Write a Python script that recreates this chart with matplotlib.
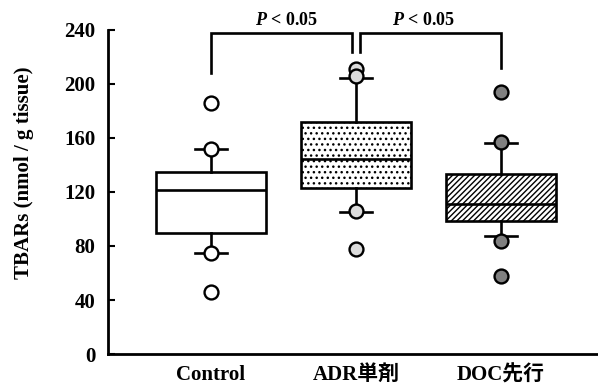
import matplotlib
matplotlib.use("Agg")
import matplotlib.pyplot as plt

plt.rcParams['hatch.linewidth'] = 1.0
plt.rcParams['mathtext.fontset'] = 'custom'
plt.rcParams['mathtext.bfit'] = 'Liberation Serif:italic:bold'
plt.rcParams['mathtext.rm'] = 'Liberation Serif:bold'

categories = ["Control", "ADR単剤", "DOC先行"]
q1 = [89.6, 122.9, 98.5]
med = [121.5, 144.4, 111.0]
q3 = [134.8, 171.9, 133.0]
whislo = [74.8, 105.2, 87.4]
whishi = [151.9, 204.4, 156.0]
points = [[186, 152, 75, 46], [211, 206, 106, 78], [194, 157, 84, 58]]
point_colors = ["white", "#dcdcdc", "#808080"]
hatches = [None, "...", "//////"]
yticks = [0, 40, 80, 120, 160, 200, 240]
sig_label = r"$\mathbfit{P}$ < 0.05"

fam = ['Liberation Serif', 'Noto Sans CJK JP']

fig = plt.figure(figsize=(5.98, 3.87), dpi=100)
ax = fig.add_axes([108/598, 33/387, 490/598, 324/387])

pos = [1, 2, 3]
for i in range(3):
    stats = [dict(q1=q1[i], med=med[i], q3=q3[i], whislo=whislo[i], whishi=whishi[i], fliers=[])]
    bp = ax.bxp(stats, positions=[pos[i]], widths=0.76, patch_artist=True,
                boxprops=dict(facecolor="white", edgecolor="black", linewidth=1.9),
                medianprops=dict(color="black", linewidth=1.9),
                whiskerprops=dict(color="black", linewidth=1.9),
                capprops=dict(color="black", linewidth=1.9),
                capwidths=0.22, showfliers=False)
    if hatches[i]:
        for b in bp['boxes']:
            b.set_hatch(hatches[i])
    ax.plot([pos[i]] * len(points[i]), points[i], linestyle="none", marker="o",
            markersize=10, markerfacecolor=point_colors[i], markeredgecolor="black",
            markeredgewidth=1.7, zorder=5, clip_on=False)

ax.set_xlim(0.29, 3.67)
ax.set_ylim(0, 240)
ax.set_yticks(yticks)
ax.set_yticklabels([str(t) for t in yticks], family=fam, fontweight="bold", fontsize=15)
ax.tick_params(axis='y', direction='in', length=5, width=1.5, pad=9)
ax.set_xticks(pos)
ax.set_xticklabels(categories, family=fam, fontweight="bold", fontsize=15)
ax.tick_params(axis='x', length=0, pad=8)
for s in ["top", "right"]:
    ax.spines[s].set_visible(False)
for s in ["left", "bottom"]:
    ax.spines[s].set_linewidth(2)

fig.text(24/598, 1 - 173/387, "TBARs (nmol / g tissue)", rotation=90, ha="center", va="center",
         family=fam, fontweight="bold", fontsize=15)

# significance brackets
top = 237.8
lw = 1.9
ax.plot([1, 1, 1.97, 1.97], [208, top, top, 224], color="black", lw=lw, clip_on=False, solid_joinstyle="miter")
ax.plot([2.03, 2.03, 3.0, 3.0], [224, top, top, 212], color="black", lw=lw, clip_on=False, solid_joinstyle="miter")
for x in [1.52, 2.47]:
    ax.text(x, 241, sig_label, ha="center", va="bottom", family=fam, fontweight="bold",
            fontsize=13, clip_on=False)

fig.savefig("out.png", dpi=100)
